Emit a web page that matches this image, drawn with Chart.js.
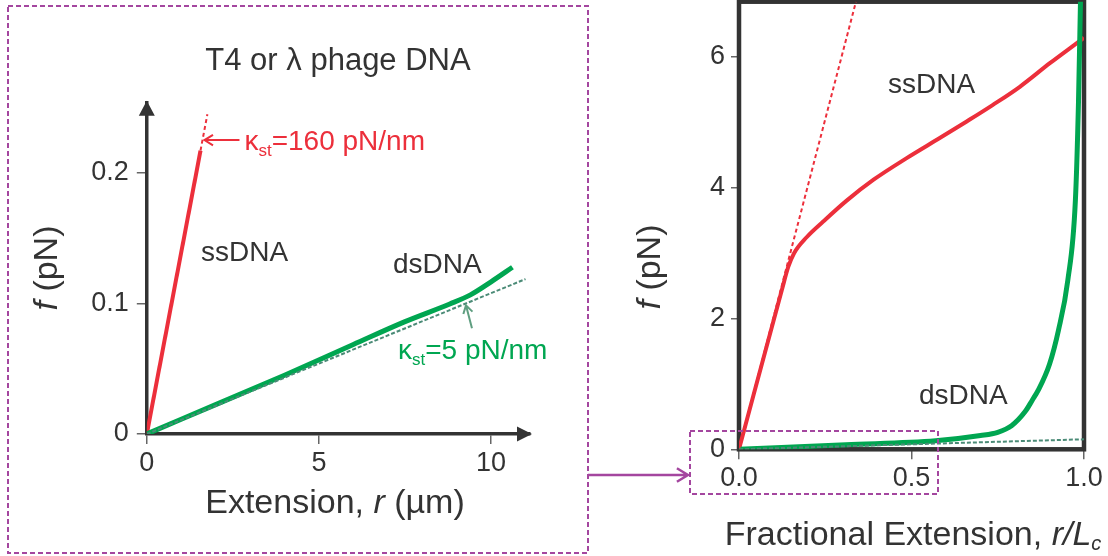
<!DOCTYPE html>
<html lang="en">
<head>
<meta charset="UTF-8">
<title>DNA force-extension</title>
<style>
  html, body { margin: 0; padding: 0; background: #fff; }
  #wrap { position: relative; width: 1108px; height: 556px; }
  canvas { position: absolute; left: 0; top: 0; }
</style>
</head>
<body>
<div id="wrap">
  <canvas id="leftChart" width="1108" height="556"></canvas>
  <canvas id="rightChart" width="1108" height="556"></canvas>
</div>
<script src="https://cdn.jsdelivr.net/npm/chart.js@4.4.1/dist/chart.umd.min.js"></script>
<script>
// left panel: extension r (um) vs force f (pN)
const ssExtL = [0, 1.56];
const ssForceL = [0, 0.217];
const ssFitExtL = [1.56, 1.76];
const ssFitForceL = [0.217, 0.2448];
const dsExtL = [0, 2, 4, 6, 7.5, 8.8, 9.4, 10.0, 10.62];
const dsForceL = [0, 0.0225, 0.045, 0.0685, 0.086, 0.0995, 0.1065, 0.1165, 0.1276];
const dsFitExtL = [0, 11.0];
const dsFitForceL = [0, 0.1186];
const xTicksL = [0, 5, 10];
const xTickLabelsL = ['0', '5', '10'];
const yTicksL = [0, 0.1, 0.2];
const yTickLabelsL = ['0', '0.1', '0.2'];

// right panel: fractional extension r/Lc vs force f (pN)
const ssFracR = [0, 0.124, 0.143, 0.16, 0.196, 0.244, 0.312, 0.39, 0.486, 0.583, 0.66, 0.735, 0.814, 0.901, 0.99, 1.0];
const ssForceR = [0, 2.43, 2.79, 3.0, 3.24, 3.48, 3.8, 4.12, 4.45, 4.76, 5.01, 5.26, 5.54, 5.9, 6.25, 6.29];
const ssFitFracR = [0, 0.339];
const ssFitForceR = [0, 6.84];
const dsFracR = [0, 0.31, 0.57, 0.70, 0.75, 0.79, 0.83, 0.85, 0.867, 0.90, 0.926, 0.953, 0.975, 0.984, 0.99];
const dsForceR = [0, 0.07, 0.13, 0.21, 0.26, 0.36, 0.58, 0.75, 0.9, 1.3, 1.82, 2.58, 3.8, 5.3, 6.9];
const dsFitFracR = [0, 1.0];
const dsFitForceR = [0, 0.153];
const xTicksR = [0, 0.5, 1.0];
const xTickLabelsR = ['0.0', '0.5', '1.0'];
const yTicksR = [0, 2, 4, 6];
const yTickLabelsR = ['0', '2', '4', '6'];

const FONT = "'Liberation Sans', Arial, Helvetica, sans-serif";
const INK = '#333333';
const RED = '#ec2f3b';
const GREEN = '#00a651';
const FITGREEN = '#4b8b77';
const PURPLE = '#a4469f';

const pts = (xs, ys) => xs.map((x, i) => ({ x: x, y: ys[i] }));

// draw a row of text pieces with their own font / colour / vertical shift
function textRuns(ctx, parts, x, y, align) {
  let w = 0;
  parts.forEach(p => { ctx.font = p[1]; w += ctx.measureText(p[0]).width; });
  let cx = align === 'center' ? x - w / 2 : x;
  ctx.textAlign = 'left';
  ctx.textBaseline = 'alphabetic';
  parts.forEach(p => {
    ctx.font = p[1];
    ctx.fillStyle = p[2];
    ctx.fillText(p[0], cx, y + (p[3] || 0));
    cx += ctx.measureText(p[0]).width;
  });
}

function rotatedRuns(ctx, parts, x, y) {
  ctx.save();
  ctx.translate(x, y);
  ctx.rotate(-Math.PI / 2);
  textRuns(ctx, parts, 0, 0, 'center');
  ctx.restore();
}

function arrow(ctx, x1, y1, x2, y2, color, lw, head) {
  const ang = Math.atan2(y2 - y1, x2 - x1);
  ctx.strokeStyle = color;
  ctx.lineWidth = lw;
  ctx.setLineDash([]);
  ctx.beginPath();
  ctx.moveTo(x1, y1);
  ctx.lineTo(x2, y2);
  ctx.moveTo(x2 - head * Math.cos(ang - 0.55), y2 - head * Math.sin(ang - 0.55));
  ctx.lineTo(x2, y2);
  ctx.lineTo(x2 - head * Math.cos(ang + 0.55), y2 - head * Math.sin(ang + 0.55));
  ctx.stroke();
}

function kappa(size, color, rest) {
  return [
    ['\u03ba', size + 'px ' + FONT, color],
    ['st', Math.round(size * 0.6) + 'px ' + FONT, color, 6],
    [rest, size + 'px ' + FONT, color]
  ];
}

const leftDecor = {
  id: 'leftDecor',
  afterDraw(chart) {
    const ctx = chart.ctx, a = chart.chartArea;
    const xs = chart.scales.x, ys = chart.scales.y;
    ctx.save();
    // arrow heads on the axes
    ctx.fillStyle = INK;
    ctx.beginPath();
    ctx.moveTo(a.left, a.top - 2);
    ctx.lineTo(a.left - 8, a.top + 13);
    ctx.lineTo(a.left + 8, a.top + 13);
    ctx.closePath();
    ctx.fill();
    ctx.beginPath();
    ctx.moveTo(a.right + 2, a.bottom);
    ctx.lineTo(a.right - 13, a.bottom - 7.5);
    ctx.lineTo(a.right - 13, a.bottom + 7.5);
    ctx.closePath();
    ctx.fill();

    textRuns(ctx, [['T4 or \u03bb phage DNA', '31px ' + FONT, INK]], 338, 70, 'center');

    // ssDNA stiffness pointer
    const rx = xs.getPixelForValue(1.617), ry = ys.getPixelForValue(0.225);
    arrow(ctx, rx + 37, ry, rx + 2, ry, RED, 2, 10);
    textRuns(ctx, kappa(28, RED, '=160 pN/nm'), rx + 42, ry + 10, 'left');

    // dsDNA stiffness pointer
    const gx = xs.getPixelForValue(9.27), gy = ys.getPixelForValue(0.1);
    arrow(ctx, gx + 6, gy + 25, gx, gy + 2, '#5f9e80', 2, 9);
    textRuns(ctx, kappa(28, GREEN, '=5 pN/nm'), 398, 359, 'left');

    textRuns(ctx, [['ssDNA', '28px ' + FONT, INK]], 201, 261, 'left');
    textRuns(ctx, [['dsDNA', '28px ' + FONT, INK]], 393, 273, 'left');

    textRuns(ctx, [
      ['Extension, ', '34px ' + FONT, INK],
      ['r', 'italic 34px ' + FONT, INK],
      [' (\u00b5m)', '34px ' + FONT, INK]
    ], 335, 513, 'center');
    rotatedRuns(ctx, [
      ['f', 'italic 34px ' + FONT, INK],
      [' (pN)', '34px ' + FONT, INK]
    ], 57, 268);
    ctx.restore();
  }
};

const rightDecor = {
  id: 'rightDecor',
  beforeDatasetsDraw(chart) {
    const ctx = chart.ctx, a = chart.chartArea;
    ctx.save();
    ctx.strokeStyle = INK;
    ctx.lineWidth = 4.5;
    ctx.strokeRect(a.left, a.top, a.right - a.left, a.bottom - a.top);
    ctx.restore();
  },
  afterDraw(chart) {
    const ctx = chart.ctx;
    ctx.save();
    textRuns(ctx, [['ssDNA', '28px ' + FONT, INK]], 888, 93, 'left');
    textRuns(ctx, [['dsDNA', '28px ' + FONT, INK]], 919, 404, 'left');
    textRuns(ctx, [
      ['Fractional Extension, ', '34px ' + FONT, INK],
      ['r/L', 'italic 34px ' + FONT, INK],
      ['c', 'italic 20px ' + FONT, INK, 5]
    ], 913, 545, 'center');
    rotatedRuns(ctx, [
      ['f', 'italic 34px ' + FONT, INK],
      [' (pN)', '34px ' + FONT, INK]
    ], 660, 267);

    // zoom boxes and link arrow
    ctx.strokeStyle = PURPLE;
    ctx.lineWidth = 2;
    ctx.setLineDash([5, 3]);
    ctx.strokeRect(8, 6, 580, 547);
    ctx.strokeRect(690, 431, 248, 63);
    arrow(ctx, 588, 475, 688, 475, PURPLE, 2.5, 13);
    ctx.restore();
  }
};

function linearAxis(min, max, ticks, labels, size, tickLen, pad, fitFn, border) {
  return {
    type: 'linear',
    min: min,
    max: max,
    afterBuildTicks: s => { s.ticks = ticks.map(v => ({ value: v })); },
    afterFit: s => {
      fitFn(s);
      // keep the plot area exactly where the layout padding puts it
      s.paddingTop = 0; s.paddingBottom = 0; s.paddingLeft = 0; s.paddingRight = 0;
    },
    ticks: {
      autoSkip: false,
      maxRotation: 0,
      padding: pad,
      color: INK,
      font: { family: FONT, size: size },
      callback: (v, i) => labels[i]
    },
    grid: {
      display: true,
      drawOnChartArea: false,
      drawTicks: true,
      tickLength: tickLen,
      color: '#666',
      lineWidth: 1.5
    },
    border: border
  };
}

function line(xs, ys, color, width, dash, smooth) {
  return {
    data: pts(xs, ys),
    showLine: true,
    borderColor: color,
    borderWidth: width,
    borderDash: dash,
    pointRadius: 0,
    cubicInterpolationMode: smooth ? 'monotone' : 'default'
  };
}

new Chart(document.getElementById('leftChart'), {
  type: 'scatter',
  data: {
    datasets: [
      line(dsFitExtL, dsFitForceL, FITGREEN, 2, [4, 2], false),
      line(ssFitExtL, ssFitForceL, RED, 2, [4, 3], false),
      line(dsExtL, dsForceL, GREEN, 5, [], true),
      line(ssExtL, ssForceL, RED, 4, [], false)
    ]
  },
  options: {
    responsive: false,
    animation: false,
    events: [],
    layout: { padding: { left: 0, top: 102.7, right: 578, bottom: 62 } },
    plugins: { legend: { display: false }, tooltip: { enabled: false } },
    scales: {
      x: linearAxis(0, 11.13, xTicksL, xTickLabelsL, 27, 10, 3,
        s => { s.height = 60; }, { display: true, color: INK, width: 3.5 }),
      y: linearAxis(0, 0.2536, yTicksL, yTickLabelsL, 27, 10, 8,
        s => { s.width = 146.8; }, { display: true, color: INK, width: 3.5 })
    }
  },
  plugins: [leftDecor]
});

new Chart(document.getElementById('rightChart'), {
  type: 'scatter',
  data: {
    datasets: [
      line(dsFitFracR, dsFitForceR, FITGREEN, 2, [4, 2], false),
      line(ssFitFracR, ssFitForceR, RED, 2, [4, 3], false),
      line(dsFracR, dsForceR, GREEN, 5, [], true),
      line(ssFracR, ssForceR, RED, 4, [], true)
    ]
  },
  options: {
    responsive: false,
    animation: false,
    events: [],
    layout: { padding: { left: 600, top: 1.7, right: 24, bottom: 66.7 } },
    plugins: { legend: { display: false }, tooltip: { enabled: false } },
    scales: {
      x: linearAxis(0, 1, xTicksR, xTickLabelsR, 27, 10, 3,
        s => { s.height = 40; }, { display: false }),
      y: linearAxis(0, 6.84, yTicksR, yTickLabelsR, 27, 8, 6,
        s => { s.width = 139; }, { display: false })
    }
  },
  plugins: [rightDecor]
});
</script>
</body>
</html>
